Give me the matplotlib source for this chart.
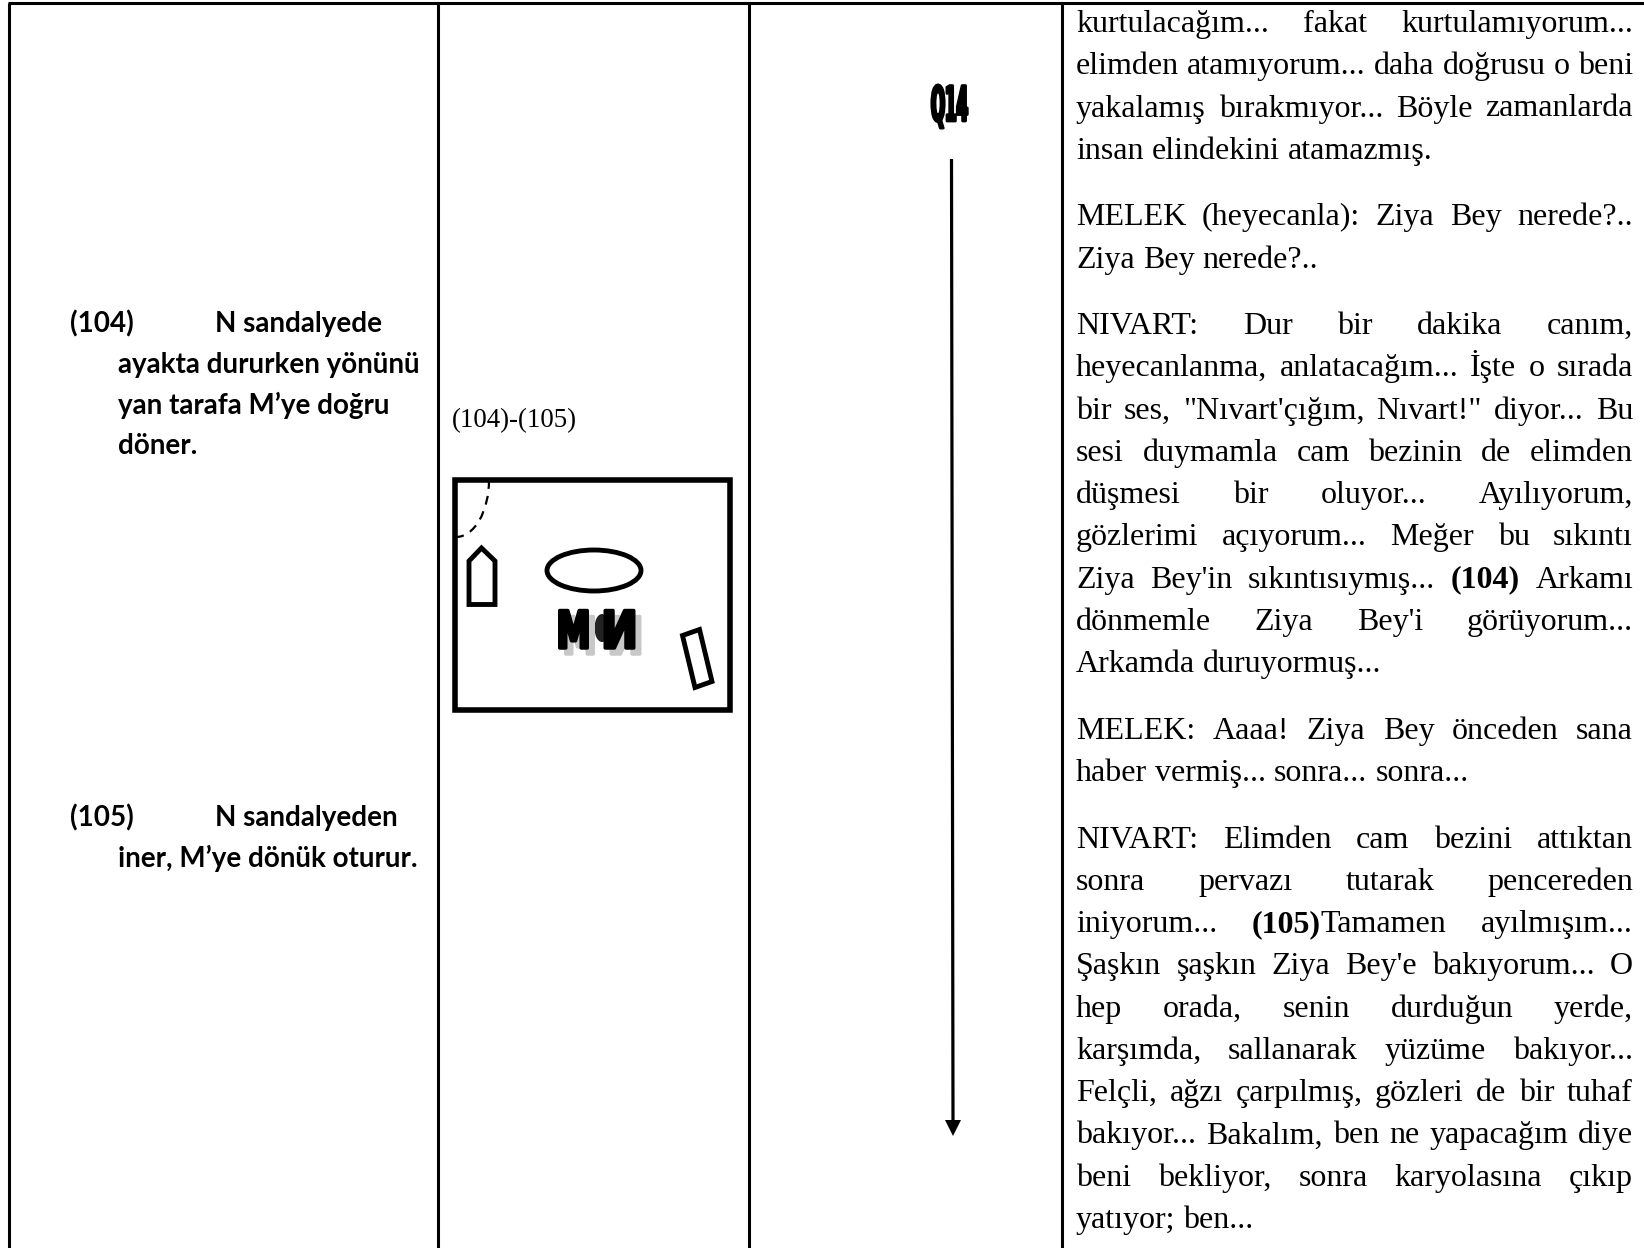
import re
import matplotlib
matplotlib.use("Agg")
import matplotlib.pyplot as plt
from matplotlib.patches import Arc, Ellipse, Polygon, Rectangle
from matplotlib.patheffects import AbstractPathEffect
from matplotlib.transforms import Affine2D

W, H = 1644, 1248

# text of the columns, ** marks bold, last line of a paragraph is not justified
script_paragraphs = [
    ["kurtulacağım... fakat kurtulamıyorum...",
     "elimden atamıyorum... daha doğrusu o beni",
     "yakalamış bırakmıyor... Böyle zamanlarda",
     "insan elindekini atamazmış."],
    ["MELEK (heyecanla): Ziya Bey nerede?..",
     "Ziya Bey nerede?.."],
    ["NIVART: Dur bir dakika canım,",
     "heyecanlanma, anlatacağım... İşte o sırada",
     "bir ses, \"Nıvart'çığım, Nıvart!\" diyor... Bu",
     "sesi duymamla cam bezinin de elimden",
     "düşmesi bir oluyor... Ayılıyorum,",
     "gözlerimi açıyorum... Meğer bu sıkıntı",
     "Ziya Bey'in sıkıntısıymış... **(104)** Arkamı",
     "dönmemle Ziya Bey'i görüyorum...",
     "Arkamda duruyormuş..."],
    ["MELEK: Aaaa! Ziya Bey önceden sana",
     "haber vermiş... sonra... sonra..."],
    ["NIVART: Elimden cam bezini attıktan",
     "sonra pervazı tutarak pencereden",
     "iniyorum... **(105)**Tamamen ayılmışım...",
     "Şaşkın şaşkın Ziya Bey'e bakıyorum... O",
     "hep orada, senin durduğun yerde,",
     "karşımda, sallanarak yüzüme bakıyor...",
     "Felçli, ağzı çarpılmış, gözleri de bir tuhaf",
     "bakıyor... Bakalım, ben ne yapacağım diye",
     "beni bekliyor, sonra karyolasına çıkıp",
     "yatıyor; ben..."],
]
note_104 = ["ayakta dururken yönünü", "yan tarafa M’ye doğru", "döner."]
note_105 = ["iner, M’ye dönük oturur."]
column_lines = [8.5, 438, 749, 1062]


class Squeeze(AbstractPathEffect):
    # scales glyphs horizontally around cx and fattens them with a stroke
    def __init__(self, cx, sx, stroke=0.0):
        super().__init__()
        self.cx, self.sx, self.stroke = cx, sx, stroke

    def draw_path(self, renderer, gc, tpath, affine, rgbFace):
        t = affine + Affine2D().translate(-self.cx, 0).scale(self.sx, 1).translate(self.cx, 0)
        gc2 = renderer.new_gc()
        gc2.copy_properties(gc)
        gc2.set_linewidth(self.stroke)
        gc2.set_foreground(rgbFace[:3] if rgbFace is not None else "k")
        renderer.draw_path(gc2, tpath, t, rgbFace)
        gc2.restore()


fig = plt.figure(figsize=(W / 100, H / 100), dpi=100)
ax = fig.add_axes([0, 0, 1, 1])
ax.set_xlim(0, W)
ax.set_ylim(H, 0)
ax.axis("off")
renderer = fig.canvas.get_renderer()

# table rules
for x in column_lines:
    ax.plot([x, x], [3, H], color="k", lw=2.2, solid_capstyle="butt")
ax.plot([column_lines[0] - 1, W], [3, 3], color="k", lw=2.2, solid_capstyle="butt")


def word_width(text, **kw):
    t = ax.text(0, 0, text, **kw)
    w = t.get_window_extent(renderer).width
    t.remove()
    return w


SERIF = dict(family="Liberation Serif", fontsize=23.0, color="k")
LEFT, RIGHT = 1076, 1633
STEP, PARA_STEP = 42.25, 66.6


def split_word(word):
    # pieces of one word as (text, bold)
    parts = re.split(r"\*\*", word)
    return [(p, i % 2 == 1) for i, p in enumerate(parts) if p]


def draw_line(line, y, justify):
    words = [split_word(w) for w in line.split(" ")]
    widths = []
    for pieces in words:
        widths.append(sum(word_width(p, fontweight="bold" if b else "normal", **SERIF) for p, b in pieces))
    space = word_width("a a", **SERIF) - word_width("aa", **SERIF)
    if justify and len(words) > 1:
        space = (RIGHT - LEFT - sum(widths)) / (len(words) - 1)
    x = LEFT
    for pieces, w in zip(words, widths):
        px = x
        for p, b in pieces:
            ax.text(px, y, p, va="baseline", ha="left", fontweight="bold" if b else "normal", **SERIF)
            px += word_width(p, fontweight="bold" if b else "normal", **SERIF)
        x += w + space


y = 32
for para in script_paragraphs:
    for i, line in enumerate(para):
        draw_line(line, y, i < len(para) - 1)
        y += STEP
    y += PARA_STEP - STEP

# left column notes
NOTE = dict(family="Lato", fontweight="bold", fontsize=20, color="k", va="baseline", ha="left")
ax.text(70, 332, "(104)", **NOTE)
ax.text(215, 332, "N sandalyede", **NOTE)
for i, line in enumerate(note_104):
    ax.text(118, 373 + i * 40.7, line, **NOTE)
ax.text(70, 826, "(105)", **NOTE)
ax.text(215, 826, "N sandalyeden", **NOTE)
for i, line in enumerate(note_105):
    ax.text(118, 867 + i * 40.7, line, **NOTE)

ax.text(452, 427, "(104)-(105)", family="Liberation Serif", fontsize=19.4, color="k", va="baseline")

# stage sketch
ax.add_patch(Rectangle((454.5, 479.5), 275.5, 230, fill=False, ec="k", lw=4.0, joinstyle="miter"))
ax.add_patch(Arc((456, 480), 66, 114, theta1=0, theta2=90, color="k", lw=1.6, ls=(0, (4, 3.2))))
ax.add_patch(Polygon([(469, 604.5), (469, 561), (481.5, 548), (495, 561), (495, 604.5)], closed=True, fill=False, ec="k", lw=3.5))
ax.add_patch(Ellipse((594, 570.5), 94, 41, fill=False, ec="k", lw=3.5))
ax.add_patch(Polygon([(682.5, 635.5), (699.5, 629.5), (712, 681.5), (695, 687.5)], closed=True, fill=False, ec="k", lw=3.5))

BOLD = dict(family="DejaVu Sans", fontweight="bold", fontsize=37, ha="center", va="baseline")
ax.add_patch(Ellipse((602, 628), 15, 28, fc="#222222", ec="none", zorder=1))
for dx, col in [(6, "#c8c8c8"), (0, "k")]:
    ax.text(573.5 + dx, 648 + dx, "M", color=col, zorder=3, path_effects=[Squeeze(573.5 + dx, 0.66, 2.5)], **BOLD)
    ax.text(619.5 + dx, 648 + dx, "N", color=col, zorder=3, path_effects=[Squeeze(619.5 + dx, -0.85, 2.5)], **BOLD)

# timeline
ax.text(949.5, 121, "Q14", color="k", path_effects=[Squeeze(949.5, 0.34, 2.0)],
        family="DejaVu Sans", fontweight="bold", fontsize=35, ha="center", va="baseline")
ax.plot([951.5, 953], [159, 1122], color="k", lw=2.3, solid_capstyle="butt")
ax.add_patch(Polygon([(945, 1120), (961, 1120), (953, 1136)], closed=True, fc="k", ec="none"))

fig.savefig("out.png", dpi=100)
